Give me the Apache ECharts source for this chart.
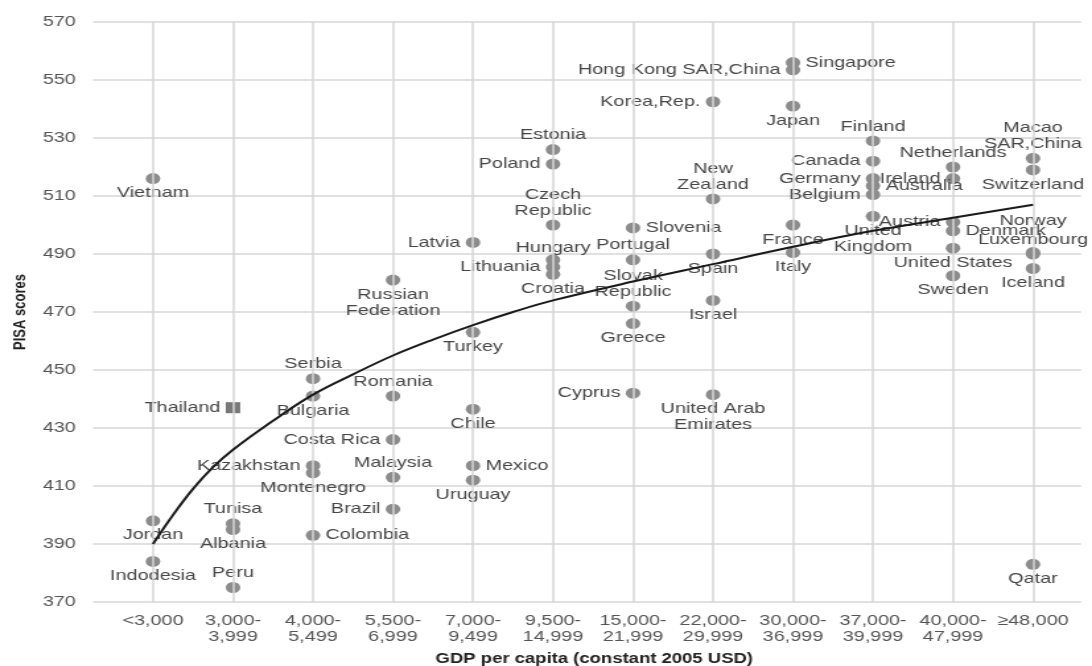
<!DOCTYPE html>
<html>
<head>
<meta charset="utf-8">
<script src="https://cdn.jsdelivr.net/npm/echarts@6/dist/echarts.min.js"></script>
<style>
html, body { margin: 0; padding: 0; background: #fff; overflow: hidden; }
#wrap { width: 1092px; height: 666px; overflow: hidden; position: relative; }
#chart { width: 827px; height: 666px; transform: scaleX(1.32044); transform-origin: 0 0; }
</style>
</head>
<body>
<div id="wrap"><div id="chart"></div></div>
<script>
// ---- data ----
const gdpGroups = ['<3,000', '3,000-\n3,999', '4,000-\n5,499', '5,500-\n6,999', '7,000-\n9,499',
  '9,500-\n14,999', '15,000-\n21,999', '22,000-\n29,999', '30,000-\n36,999', '37,000-\n39,999',
  '40,000-\n47,999', '\u226548,000'];

const yMin = 370, yMax = 570, yStep = 20;

const countries = ['Vietnam', 'Jordan', 'Indodesia',
  'Thailand', 'Tunisa', 'Albania', 'Peru',
  'Serbia', 'Bulgaria', 'Kazakhstan', 'Montenegro', 'Colombia',
  'Russian\nFederation', 'Romania', 'Costa Rica', 'Malaysia', 'Brazil',
  'Latvia', 'Turkey', 'Chile', 'Mexico', 'Uruguay',
  'Estonia', 'Poland', 'Czech\nRepublic', 'Hungary', 'Lithuania', 'Croatia',
  'Slovenia', 'Portugal', 'Slovak\nRepublic', 'Greece', 'Cyprus',
  'Korea,Rep.', 'New\nZealand', 'Spain', 'Israel', 'United Arab\nEmirates',
  'Singapore', 'Hong Kong SAR,China', 'Japan', 'France', 'Italy',
  'Finland', 'Canada', 'Germany', 'Australia', 'Belgium', 'United\nKingdom',
  'Netherlands', 'Ireland', 'Austria', 'Denmark', 'United States', 'Sweden',
  'Macao\nSAR,China', 'Switzerland', 'Norway', 'Luxembourg', 'Iceland', 'Qatar'];

const countryGroup = [0, 0, 0,
  1, 1, 1, 1,
  2, 2, 2, 2, 2,
  3, 3, 3, 3, 3,
  4, 4, 4, 4, 4,
  5, 5, 5, 5, 5, 5,
  6, 6, 6, 6, 6,
  7, 7, 7, 7, 7,
  8, 8, 8, 8, 8,
  9, 9, 9, 9, 9, 9,
  10, 10, 10, 10, 10, 10,
  11, 11, 11, 11, 11, 11];

const pisaScores = [516, 398, 384,
  437, 397, 395, 375,
  447, 441, 417, 414.5, 393,
  481, 441, 426, 413, 402,
  494, 463, 436.5, 417, 412,
  526, 521, 500, 488, 485.5, 483,
  499, 488, 472, 466, 442,
  542.5, 509, 490, 474, 441.5,
  556, 553.5, 541, 500, 490.5,
  529, 522, 516, 513.5, 510.5, 503,
  520, 516, 501, 498, 492, 482.5,
  523, 519, 490.5, 490, 485, 383];

// fitted curve at these positions along the GDP-group axis
const trendPos    = [0,   0.25, 0.5, 0.75,  1,     1.5,   2,     2.5,   3,   3.5,   4,     4.5, 5,   6,     7,     8,     9,   10,    11];
const trendScores = [390, 400,  409, 416.5, 422.5, 432.5, 441.5, 448.5, 455, 460.5, 465.5, 470, 474, 480.5, 486.5, 492.5, 498, 502.5, 507];

// ---- label placement / marker style (not data) ----
const labelsLeft = ['Thailand', 'Kazakhstan', 'Costa Rica', 'Brazil', 'Latvia', 'Poland', 'Lithuania',
  'Cyprus', 'Korea,Rep.', 'Hong Kong SAR,China', 'Canada', 'Germany', 'Belgium', 'Ireland', 'Austria'];
const labelsRight = ['Colombia', 'Mexico', 'Slovenia', 'Singapore', 'Australia', 'Denmark'];
const labelsTop = ['Tunisa', 'Peru', 'Serbia', 'Romania', 'Malaysia', 'Estonia', 'Czech\nRepublic', 'Hungary',
  'Portugal', 'Slovak\nRepublic', 'New\nZealand', 'Finland', 'Netherlands', 'Macao\nSAR,China', 'Norway', 'Luxembourg'];
const squareMarkers = ['Thailand'];

function labelFor(name) {
  if (labelsLeft.includes(name)) return { position: 'left', distance: 4 };
  if (labelsRight.includes(name)) return { position: 'right', distance: 4 };
  if (labelsTop.includes(name)) return { position: 'top', distance: name === 'Norway' ? 18 : (name === 'Hungary' ? -2 : 1) };
  return { position: 'bottom', distance: 1 };
}

const pointData = countries.map((name, i) => ({
  name: name,
  value: [countryGroup[i], pisaScores[i]],
  symbol: squareMarkers.includes(name) ? 'rect' : 'circle',
  itemStyle: squareMarkers.includes(name) ? { color: '#787878' } : undefined,
  label: labelFor(name)
}));

const gridGrey = '#d6d6d6';
const textGrey = '#474747';
const fontFam = '"Liberation Sans", Arial, Helvetica, sans-serif';

const chart = echarts.init(document.getElementById('chart'), null, { renderer: 'canvas' });
chart.setOption({
  animation: false,
  backgroundColor: '#ffffff',
  textStyle: { fontFamily: fontFam },
  grid: { left: 70.43, right: 8.33, top: 22, bottom: 64, containLabel: false, outerBoundsMode: 'none' },
  xAxis: {
    type: 'value',
    min: -0.75,
    max: 11.6,
    axisLine: { show: false },
    axisTick: { show: false },
    splitLine: { show: false },
    axisLabel: {
      customValues: gdpGroups.map((_, i) => i),
      formatter: v => gdpGroups[Math.round(v)] || '',
      color: '#555', fontSize: 15, lineHeight: 16, margin: 11, fontFamily: fontFam
    },
    name: 'GDP per capita (constant 2005 USD)',
    nameLocation: 'middle',
    nameGap: 50,
    nameTextStyle: { color: '#222', fontWeight: 'bold', fontSize: 14, fontFamily: fontFam, padding: [0, 0, 0, 11] }
  },
  yAxis: {
    type: 'value',
    min: yMin,
    max: yMax,
    interval: yStep,
    axisLine: { show: false },
    axisTick: { show: false },
    splitLine: { show: true, lineStyle: { color: gridGrey, width: 1.5 } },
    axisLabel: { color: '#555', fontSize: 15, margin: 13, fontFamily: fontFam },
    name: 'PISA scores',
    nameLocation: 'middle',
    nameRotate: 90,
    nameGap: 48,
    nameTextStyle: { color: '#222', fontWeight: 'bold', fontSize: 13, fontFamily: fontFam }
  },
  series: [
    {
      type: 'scatter',
      data: [],
      z: 1,
      silent: true,
      markLine: {
        silent: true,
        symbol: ['none', 'none'],
        label: { show: false },
        lineStyle: { color: gridGrey, type: 'solid', width: 1.5 },
        data: gdpGroups.map((_, i) => ({ xAxis: i }))
      }
    },
    {
      type: 'scatter',
      z: 3,
      symbolSize: 11,
      itemStyle: { color: '#8c8c8c', opacity: 1 },
      label: {
        show: true,
        formatter: '{b}',
        color: textGrey,
        fontSize: 15,
        lineHeight: 16,
        fontFamily: fontFam
      },
      labelLayout: { hideOverlap: false },
      data: pointData
    },
    {
      type: 'line',
      z: 5,
      smooth: 0.4,
      symbol: 'none',
      silent: true,
      lineStyle: { color: '#1a1a1a', width: 2 },
      data: trendPos.map((p, i) => [p, trendScores[i]])
    }
  ]
});
</script>
</body>
</html>
